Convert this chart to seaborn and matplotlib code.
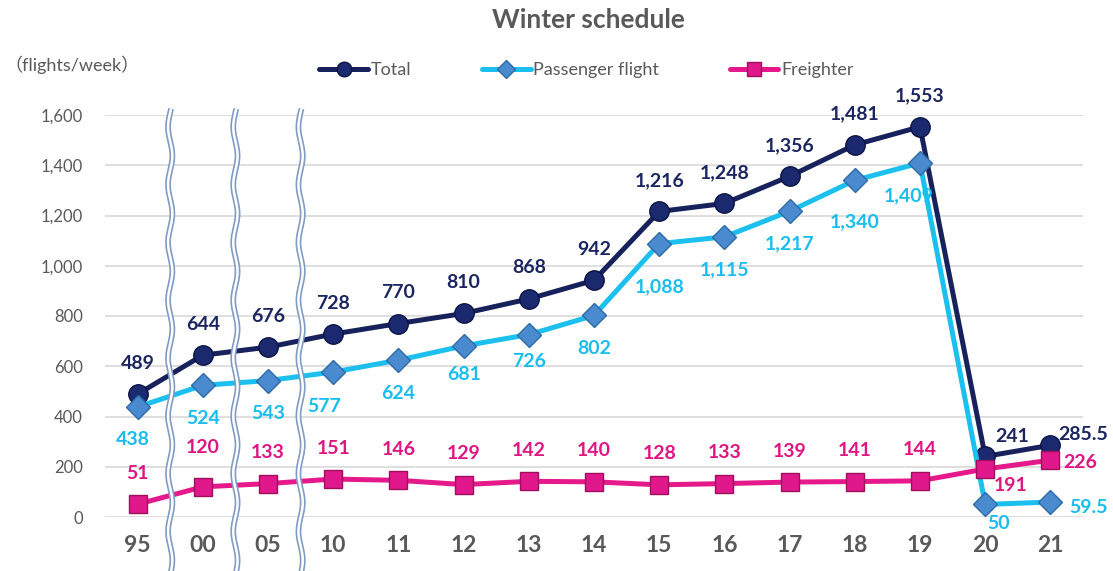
import pandas as pd
import numpy as np
import matplotlib.pyplot as plt
import seaborn as sns
from matplotlib.lines import Line2D

# Weekly flights, winter schedule
years = ['95', '00', '05', '10', '11', '12', '13', '14', '15', '16', '17', '18', '19', '20', '21']
total = [489, 644, 676, 728, 770, 810, 868, 942, 1216, 1248, 1356, 1481, 1553, 241, 285.5]
passenger = [438, 524, 543, 577, 624, 681, 726, 802, 1088, 1115, 1217, 1340, 1409, 50, 59.5]
freighter = [51, 120, 133, 151, 146, 129, 142, 140, 128, 133, 139, 141, 144, 191, 226]

df = pd.DataFrame({'pos': range(len(years)), 'year': years,
                   'Total': total, 'Passenger flight': passenger, 'Freighter': freighter})

sns.set_theme(style='white')
plt.rcParams['font.family'] = ['Lato', 'Noto Sans CJK JP', 'DejaVu Sans']

fig = plt.figure(figsize=(11.13, 5.71), dpi=100)
ax = fig.add_axes([105/1113, 1 - 517/571, (1083 - 105)/1113, (517 - 115)/571])

# series styles: line colour, marker, marker face, marker edge, size, label colour
styles = {
    'Total': ('#17215c', 'o', '#1b2a6e', '#0c1445', 14, '#1b2560'),
    'Passenger flight': ('#1cc0ef', 'D', '#4a8bd0', '#2d6aa6', 12, '#19bdf0'),
    'Freighter': ('#e6198c', 's', '#e0188c', '#9e0f5c', 13, '#e01482'),
}

for name, (lc, mk, mf, me, ms, _) in styles.items():
    sns.lineplot(data=df, x='pos', y=name, ax=ax, color=lc, lw=3.6,
                 marker=mk, markersize=ms, markerfacecolor=mf,
                 markeredgecolor=me, markeredgewidth=1, zorder=3, clip_on=False)

# label offsets in pixels (dx, dy up)
offsets = {
    'Total': ((0, 31), {13: (27, 20), 14: (33, 11)}),
    'Passenger flight': ((0, -33), {0: (-5, -33), 3: (-9, -34), 5: (0, -29), 6: (0, -27),
                                    8: (0, -43), 11: (0, -41), 12: (-11, -33),
                                    13: (13, -19), 14: (38, -5)}),
    'Freighter': ((0, 31), {1: (0, 39), 13: (25, -16), 14: (30, -2)}),
}


def fmt(v):
    return f'{v:,.0f}' if float(v).is_integer() else f'{v:,}'


for name, (default, special) in offsets.items():
    col = styles[name][5]
    for i, v in enumerate(df[name]):
        dx, dy = special.get(i, default)
        ax.annotate(fmt(v), (i, v), xytext=(dx * 0.72, dy * 0.72), textcoords='offset points',
                    ha='center', va='center', fontsize=14, fontweight='bold', color=col,
                    zorder=7, annotation_clip=False)

# wavy break marks between the early years
yy = np.linspace(-230, 1625, 500)
for xc in [0.5, 1.5, 2.5]:
    xx = xc + 0.033 * np.sin(2 * np.pi * yy / 230)
    ax.plot(xx, yy, color='#809bc4', lw=4.2, clip_on=False, zorder=5, solid_capstyle='butt')
    ax.plot(xx, yy, color='white', lw=1.8, clip_on=False, zorder=6, solid_capstyle='butt')

ax.set_xlim(-0.5, len(years) - 0.5)
ax.set_ylim(0, 1600)
ax.set_xticks(range(len(years)))
ax.set_xticklabels(years, fontsize=16.5, fontweight='bold', color='#595959')
ax.set_yticks(range(0, 1601, 200))
ax.set_yticklabels([f'{t:,}' for t in range(0, 1601, 200)], fontsize=12, color='#595959')
ax.tick_params(axis='x', length=0, pad=13)
ax.tick_params(axis='y', length=0, pad=16)
ax.set_xlabel('')
ax.set_ylabel('')
ax.yaxis.grid(True, color='#d9d9d9', lw=1.2)
ax.xaxis.grid(False)
ax.set_axisbelow(True)
sns.despine(ax=ax, left=True, bottom=True)

handles = [Line2D([], [], color=lc, lw=3.6, marker=mk, markersize=ms * 0.75,
                  markerfacecolor=mf, markeredgecolor=me)
           for lc, mk, mf, me, ms, _ in styles.values()]
fig.legend(handles, list(styles.keys()), loc='center', bbox_to_anchor=(0.527, 1 - 70/571),
           ncol=3, frameon=False, fontsize=13, handlelength=2.7, handletextpad=0.15,
           columnspacing=3.9, labelcolor='#595959')

fig.text(588/1113, 1 - 20/571, 'Winter schedule', ha='center', va='center',
         fontsize=19, fontweight='bold', color='#595959')
fig.text(4/1113, 1 - 65/571, '（flights/week）', ha='left', va='center',
         fontsize=13, color='#595959')

fig.savefig('out.png', dpi=100)
